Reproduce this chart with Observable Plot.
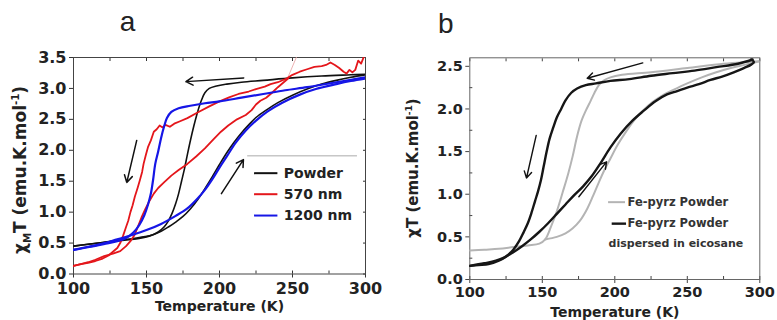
<!DOCTYPE html>
<html><head><meta charset="utf-8">
<script src="https://cdn.jsdelivr.net/npm/d3@7"></script>
<script src="https://cdn.jsdelivr.net/npm/@observablehq/plot@0.6"></script>
<style>
body{margin:0;background:#fff;}
#wrap{display:flex;width:777px;height:320px;overflow:hidden;background:#fff;}
</style></head><body><div id="wrap"></div>
<script>
// ===== Panel a : [T (K), chiM*T]
const powderCool = [[300,3.23],[290,3.22],[270,3.20],[250,3.17],[230,3.13],[215,3.10],[205,3.07],[198,3.04],[193,3.00],[190,2.93],[187.5,2.80],[185,2.62],[182.5,2.40],[180,2.15],[178,1.93],[176,1.70],[174,1.50],[172,1.30],[170,1.14],[167.5,0.98],[165,0.86],[162,0.76],[158,0.68],[154,0.63],[150,0.60],[145,0.575],[138,0.555],[130,0.535],[120,0.51],[110,0.48],[100,0.45]];
const powderHeat = [[100,0.45],[110,0.48],[120,0.51],[130,0.54],[140,0.57],[148,0.60],[155,0.64],[160,0.69],[165,0.76],[170,0.84],[175,0.93],[180,1.05],[185,1.20],[190,1.38],[195,1.57],[200,1.77],[205,1.96],[210,2.13],[215,2.28],[220,2.41],[225,2.53],[232,2.65],[240,2.77],[250,2.89],[260,2.99],[270,3.07],[280,3.13],[290,3.18],[300,3.22]];
const nm570Cool = [[299,3.52],[297,3.40],[295,3.45],[293,3.30],[291,3.26],[289,3.30],[287,3.24],[285,3.27],[282,3.33],[279,3.38],[276,3.42],[273,3.38],[270,3.36],[265,3.35],[260,3.31],[255,3.27],[250,3.22],[246,3.16],[240,3.10],[235,3.07],[231,3.03],[225,2.99],[220,2.95],[213,2.91],[207,2.86],[200,2.79],[193,2.71],[185,2.61],[178,2.52],[173,2.47],[169,2.43],[166,2.38],[163,2.41],[161,2.37],[159,2.40],[157,2.34],[155,2.30],[153,2.16],[151,2.05],[149.5,1.92],[148,1.78],[147,1.65],[145.5,1.52],[144,1.40],[142,1.25],[140.5,1.11],[139,1.00],[137.5,0.86],[136,0.76],[134,0.62],[132,0.50],[130,0.42],[127,0.36],[124,0.30],[120,0.25],[115,0.21],[110,0.18],[105,0.16],[100,0.13]];
const nm570Heat = [[100,0.13],[105,0.16],[110,0.19],[115,0.23],[121,0.29],[127,0.33],[132,0.37],[136,0.45],[139,0.53],[142,0.64],[144,0.76],[146.5,0.91],[149,1.04],[152,1.18],[155,1.30],[158,1.39],[162,1.48],[167,1.59],[172,1.68],[178,1.78],[184,1.90],[190,2.03],[196,2.18],[201,2.30],[206,2.40],[212,2.50],[218,2.57],[222,2.65],[225,2.74],[228,2.80],[232,2.85],[236,2.93],[240,3.02],[244,3.10],[247,3.16]];
const nm570Spike = [[246.5,3.16],[253.5,3.55]];
const nm1200Cool = [[300,3.18],[290,3.14],[275,3.08],[260,3.02],[245,2.97],[230,2.91],[215,2.85],[200,2.79],[190,2.76],[180,2.72],[172,2.68],[167,2.62],[164,2.52],[162,2.38],[160,2.20],[158,1.98],[156,1.78],[154.5,1.52],[153,1.30],[151,1.12],[148.5,0.95],[145,0.79],[141,0.67],[136,0.58],[130,0.53],[122,0.49],[112,0.44],[100,0.39]];
const nm1200Heat = [[100,0.39],[110,0.44],[120,0.49],[130,0.56],[140,0.63],[150,0.71],[160,0.81],[170,0.94],[178,1.06],[185,1.22],[190,1.36],[195,1.53],[200,1.72],[205,1.90],[211,2.12],[218,2.32],[225,2.48],[233,2.63],[243,2.77],[255,2.90],[266,2.99],[280,3.07],[290,3.12],[300,3.16]];
const arrowsA = [[216.6,3.17,177,3.11],[143.3,2.16,136.5,1.48],[201.3,1.30,216.4,1.85]];
const legendA = ["Powder","570 nm","1200 nm"];
const yTicksA = [0,0.5,1,1.5,2,2.5,3,3.5];

// ===== Panel b : [T (K), chi*T]
const grayCool = [[300,2.56],[290,2.55],[275,2.53],[250,2.48],[225,2.43],[205,2.40],[197,2.37],[192,2.33],[189,2.28],[186,2.19],[183.5,2.10],[180,1.98],[177,1.86],[174,1.68],[171,1.45],[168,1.25],[164,1.02],[160,0.80],[156,0.62],[152,0.47],[148,0.42],[140,0.40],[130,0.38],[120,0.36],[110,0.35],[100,0.34]];
const grayHeat = [[152,0.47],[160,0.50],[166,0.54],[171,0.60],[176,0.69],[181,0.83],[185,0.98],[189,1.14],[193,1.29],[197,1.42],[202,1.58],[208,1.74],[214,1.88],[220,1.99],[226,2.08],[233,2.16],[240,2.22],[250,2.30],[260,2.37],[270,2.43],[280,2.48],[290,2.52],[300,2.56]];
const blackCool = [[295,2.58],[285,2.53],[270,2.49],[255,2.45],[240,2.42],[225,2.39],[210,2.35],[197,2.33],[187,2.30],[180,2.28],[174,2.24],[170,2.19],[166,2.10],[163,2.00],[160,1.90],[157.5,1.78],[155,1.65],[153,1.50],[151,1.33],[149,1.16],[147,1.03],[145,0.92],[142.5,0.78],[140,0.66],[137,0.55],[134,0.45],[130,0.35],[125,0.27],[120,0.22],[113,0.18],[106,0.17],[100,0.16]];
const blackHeat = [[100,0.16],[110,0.19],[118,0.22],[124,0.26],[130,0.32],[136,0.39],[142,0.47],[148,0.56],[154,0.66],[160,0.77],[166,0.88],[172,0.99],[178,1.09],[184,1.21],[190,1.36],[197,1.55],[204,1.71],[212,1.86],[220,1.98],[228,2.09],[236,2.17],[243,2.21],[250,2.25],[258,2.29],[266,2.34],[274,2.38],[282,2.43],[289,2.48],[294,2.52],[296,2.55],[294,2.58]];
const arrowsB = [[219.3,2.54,181,2.36],[145.8,1.69,139.1,1.19],[175.2,0.97,194.3,1.38]];
const legendB = ["Fe-pyrz Powder","Fe-pyrz Powder","dispersed in eicosane"];
const yTicksB = [0,0.5,1,1.5,2,2.5];
const yMinorB = [0.25,0.75,1.25,1.75,2.25];

const xTicks = [100,150,200,250,300];
const xMinor = [100,125,150,175,200,225,250,275,300];

const FONT = "DejaVu Sans";
const X = d => d[0], Y = d => d[1];

function yLabel(svg, x, y, size, parts) {
  const t = d3.select(svg).append("text")
    .attr("transform", `translate(${x},${y}) rotate(-90)`)
    .attr("text-anchor", "middle").attr("font-family", FONT)
    .attr("font-weight", "bold").attr("font-size", size).attr("fill", "#222");
  let shift = 0;
  for (const [s, kind] of parts) {
    const sp = t.append("tspan").text(s);
    let target = 0;
    if (kind === "sub") { target = 0.28 * size; sp.attr("font-size", size * 0.6); }
    if (kind === "sup") { target = -0.42 * size; sp.attr("font-size", size * 0.6); }
    if (target - shift !== 0) sp.attr("dy", target - shift);
    shift = target;
  }
}

// ---------- Panel a ----------
const colA = ["#111111", "#e4161b", "#1616e6"];
const legAy = [1.63, 1.29, 0.945];
const marksA = [
  Plot.axisY(yTicksA, {anchor: "left", tickSize: 4, tickPadding: 3, tickFormat: d3.format(".1f"), label: null, fontSize: 16, fontWeight: "bold", stroke: "#333", fill: "#222"}),
  Plot.axisY(yTicksA, {anchor: "right", tickSize: -3, tickFormat: () => "", label: null, stroke: "#333"}),
  Plot.axisX(xTicks, {anchor: "bottom", tickSize: 4, tickPadding: 5, tickFormat: d3.format("d"), label: null, fontSize: 16, fontWeight: "bold", stroke: "#333", fill: "#222"}),
  Plot.axisX(xMinor, {anchor: "bottom", tickSize: -3, tickFormat: () => "", label: null, stroke: "#333"}),
  Plot.axisX(xMinor, {anchor: "top", tickSize: -3, tickFormat: () => "", label: null, stroke: "#333"}),
  Plot.frame({stroke: "#444", strokeWidth: 1}),
  Plot.line(powderCool, {x: X, y: Y, stroke: colA[0], strokeWidth: 1.6, curve: "catmull-rom", clip: true}),
  Plot.line(powderHeat, {x: X, y: Y, stroke: colA[0], strokeWidth: 1.6, curve: "catmull-rom", clip: true}),
  Plot.line(nm570Spike, {x: X, y: Y, stroke: "#e8a0a0", strokeWidth: 0.8, clip: true}),
  Plot.line(nm570Cool, {x: X, y: Y, stroke: colA[1], strokeWidth: 1.8, clip: true}),
  Plot.line(nm570Heat, {x: X, y: Y, stroke: colA[1], strokeWidth: 1.8, clip: true}),
  Plot.line(nm1200Cool, {x: X, y: Y, stroke: colA[2], strokeWidth: 2.2, curve: "catmull-rom", clip: true}),
  Plot.line(nm1200Heat, {x: X, y: Y, stroke: colA[2], strokeWidth: 2.2, curve: "catmull-rom", clip: true}),
  Plot.arrow(arrowsA, {x1: d => d[0], y1: d => d[1], x2: d => d[2], y2: d => d[3], stroke: "#111", strokeWidth: 1.5, headLength: 8}),
  Plot.ruleY([1.91], {x1: 219.3, x2: 294.5, stroke: "#aaa", strokeWidth: 1}),
  Plot.text(["Temperature (K)"], {frameAnchor: "bottom", lineAnchor: "middle", dy: 33, fontSize: 14, fontWeight: "bold", fill: "#222"}),
  Plot.text(["a"], {frameAnchor: "top-left", lineAnchor: "middle", textAnchor: "middle", dx: 54, dy: -35, fontSize: 28, fontFamily: "Liberation Sans", fontWeight: "normal", fill: "#222"})
];
legendA.forEach((lab, i) => {
  marksA.push(Plot.ruleY([legAy[i]], {x1: 224, x2: 240, stroke: colA[i], strokeWidth: 2}));
  marksA.push(Plot.text([lab], {x: 244, y: legAy[i], textAnchor: "start", fontSize: 14, fontWeight: "bold", fill: "#222"}));
});
const plotA = Plot.plot({
  width: 389, height: 320,
  marginLeft: 73, marginRight: 24, marginTop: 57, marginBottom: 46.5,
  x: {domain: [100, 300]},
  y: {domain: [0, 3.5]},
  style: {fontFamily: FONT, background: "white", overflow: "visible"},
  marks: marksA
});
yLabel(plotA, 26, 170, 17, [["χ", ""], ["M", "sub"], ["T (emu.K.mol", ""], ["-1", "sup"], [")", ""]]);

// ---------- Panel b ----------
const marksB = [
  Plot.axisY(yTicksB, {anchor: "left", tickSize: 4, tickPadding: 3, tickFormat: d3.format(".1f"), label: null, fontSize: 14.5, fontWeight: "bold", stroke: "#444", fill: "#222"}),
  Plot.axisY(yMinorB, {anchor: "left", tickSize: -3, tickFormat: () => "", label: null, stroke: "#444"}),
  Plot.axisX(xTicks, {anchor: "bottom", tickSize: 4, tickPadding: 3, tickFormat: d3.format("d"), label: null, fontSize: 14.5, fontWeight: "bold", stroke: "#444", fill: "#222"}),
  Plot.axisX(xMinor, {anchor: "bottom", tickSize: -3, tickFormat: () => "", label: null, stroke: "#444"}),
  Plot.axisX(xMinor, {anchor: "top", tickSize: -3, tickFormat: () => "", label: null, stroke: "#444"}),
  Plot.frame({stroke: "#666", strokeWidth: 1}),
  Plot.line(grayCool, {x: X, y: Y, stroke: "#b4b4b4", strokeWidth: 2, curve: "catmull-rom", clip: true}),
  Plot.line(grayHeat, {x: X, y: Y, stroke: "#b4b4b4", strokeWidth: 2, curve: "catmull-rom", clip: true}),
  Plot.line(blackCool, {x: X, y: Y, stroke: "#161616", strokeWidth: 2.4, curve: "catmull-rom", clip: true}),
  Plot.line(blackHeat, {x: X, y: Y, stroke: "#161616", strokeWidth: 2.4, curve: "catmull-rom", clip: true}),
  Plot.arrow(arrowsB, {x1: d => d[0], y1: d => d[1], x2: d => d[2], y2: d => d[3], stroke: "#111", strokeWidth: 1.4, headLength: 8}),
  Plot.ruleY([0.907], {x1: 195.7, x2: 207.4, stroke: "#b4b4b4", strokeWidth: 2}),
  Plot.ruleY([0.655], {x1: 198.2, x2: 208.1, stroke: "#161616", strokeWidth: 2.4}),
  Plot.text([legendB[0]], {x: 208.8, y: 0.907, textAnchor: "start", fontSize: 11.5, fontWeight: "bold", fill: "#333"}),
  Plot.text([legendB[1]], {x: 208.8, y: 0.655, textAnchor: "start", fontSize: 11.5, fontWeight: "bold", fill: "#333"}),
  Plot.text([legendB[2]], {x: 195.7, y: 0.42, textAnchor: "start", fontSize: 11, fontWeight: "bold", fill: "#333"}),
  Plot.text(["Temperature (K)"], {frameAnchor: "bottom", lineAnchor: "middle", dy: 33, fontSize: 14, fontWeight: "bold", fill: "#222"}),
  Plot.text(["b"], {frameAnchor: "top-left", lineAnchor: "middle", textAnchor: "middle", dx: -24, dy: -34, fontSize: 28, fontFamily: "Liberation Sans", fontWeight: "normal", fill: "#222"})
];
const plotB = Plot.plot({
  width: 388, height: 320,
  marginLeft: 80.3, marginRight: 17.7, marginTop: 57.3, marginBottom: 41,
  x: {domain: [100, 300]},
  y: {domain: [0, 2.6]},
  style: {fontFamily: FONT, background: "white", overflow: "visible"},
  marks: marksB
});
yLabel(plotB, 29, 168, 15, [["χT (emu.K.mol", ""], ["-1", "sup"], [")", ""]]);

const wrap = document.getElementById("wrap");
wrap.appendChild(plotA);
wrap.appendChild(plotB);
</script></body></html>
